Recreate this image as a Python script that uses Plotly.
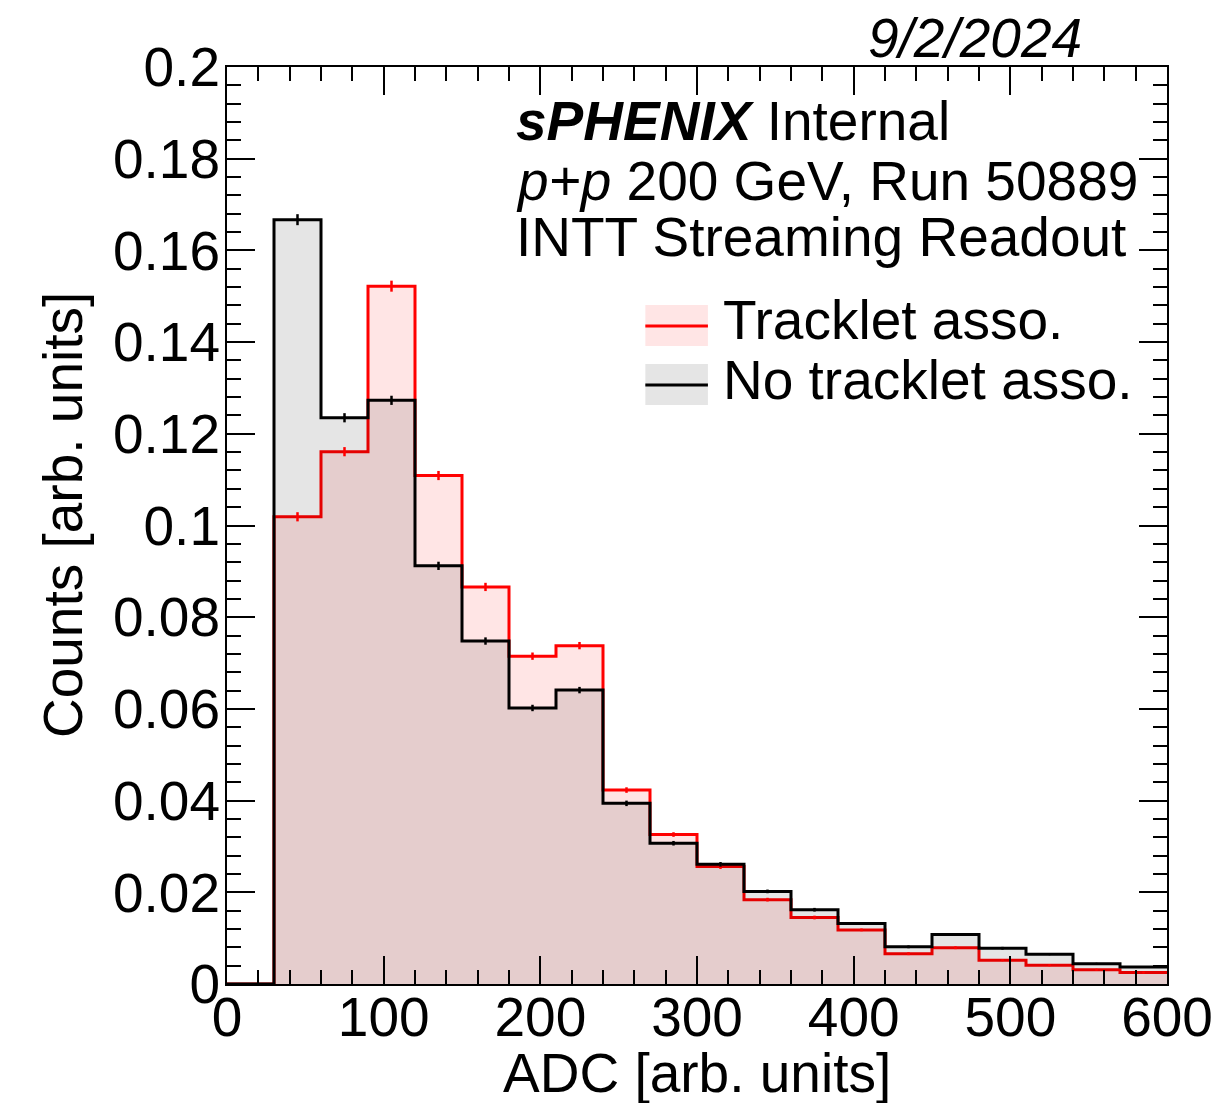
import plotly.graph_objects as go

# ---------------- data ----------------
bin_edges = [0, 30, 60, 90, 120, 150, 180, 210, 240, 270, 300, 330, 360, 390, 420, 450, 480, 510, 540, 570, 600]
bin_centers = [15, 45, 75, 105, 135, 165, 195, 225, 255, 285, 315, 345, 375, 405, 435, 465, 495, 525, 555, 585]

no_tracklet = [0.0, 0.1667, 0.1235, 0.1273, 0.0912, 0.0748, 0.0602, 0.0641, 0.0394, 0.0307,
               0.0261, 0.0202, 0.0162, 0.0132, 0.0081, 0.0108, 0.0078, 0.0065, 0.0044, 0.0037]
no_tracklet_err = [0.0, 0.0012, 0.0010, 0.0010, 0.0009, 0.0008, 0.0007, 0.0007, 0.0006, 0.0005,
                   0.0005, 0.0004, 0.0004, 0.0003, 0.0003, 0.0003, 0.0003, 0.0002, 0.0002, 0.0002]

tracklet = [0.0, 0.1019, 0.1161, 0.1522, 0.1109, 0.0866, 0.0715, 0.0738, 0.0423, 0.0326,
            0.0256, 0.0184, 0.0145, 0.0118, 0.0066, 0.0079, 0.0052, 0.0041, 0.0031, 0.0025]
tracklet_err = [0.0, 0.0010, 0.0010, 0.0012, 0.0010, 0.0009, 0.0008, 0.0008, 0.0006, 0.0005,
                0.0005, 0.0004, 0.0004, 0.0003, 0.0003, 0.0003, 0.0002, 0.0002, 0.0002, 0.0002]

x_ticks = [0, 100, 200, 300, 400, 500, 600]
y_ticks = [0, 0.02, 0.04, 0.06, 0.08, 0.1, 0.12, 0.14, 0.16, 0.18, 0.2]
y_tick_text = ["0", "0.02", "0.04", "0.06", "0.08", "0.1", "0.12", "0.14", "0.16", "0.18", "0.2"]

legend_labels = ["Tracklet asso.", "No tracklet asso."]

# ---------------- layout geometry ----------------
W, H = 1225, 1103
L, R, T, B = 227, 1173, 67, 984
FONT = "Liberation Sans, Arial, Helvetica, sans-serif"
FS = 55

RED = "#ff0000"
RED_FILL = "rgba(255,0,0,0.10)"
BLK = "#000000"
BLK_FILL = "rgba(0,0,0,0.10)"


def px(xp):
    return (xp - L) / (R - L)


def py(yp):
    return (B - yp) / (B - T)


def step(vals):
    return list(vals) + [vals[-1]]


fig = go.Figure()

fig.add_trace(go.Scatter(
    x=bin_edges, y=step(tracklet), mode="lines", line=dict(color=RED, width=3, shape="hv"),
    fill="tozeroy", fillcolor=RED_FILL, showlegend=False, hoverinfo="skip"))
fig.add_trace(go.Scatter(
    x=bin_edges, y=step(no_tracklet), mode="lines", line=dict(color=BLK, width=3, shape="hv"),
    fill="tozeroy", fillcolor=BLK_FILL, showlegend=False, hoverinfo="skip"))

fig.add_trace(go.Scatter(
    x=bin_centers[1:], y=tracklet[1:], mode="markers",
    marker=dict(color=RED, size=2),
    error_y=dict(type="data", array=tracklet_err[1:], color=RED, thickness=2.5, width=0),
    showlegend=False, hoverinfo="skip"))
fig.add_trace(go.Scatter(
    x=bin_centers[1:], y=no_tracklet[1:], mode="markers",
    marker=dict(color=BLK, size=2),
    error_y=dict(type="data", array=no_tracklet_err[1:], color=BLK, thickness=2.5, width=0),
    showlegend=False, hoverinfo="skip"))

axis_common = dict(
    showline=True, linecolor="black", linewidth=2, mirror="allticks",
    ticks="inside", ticklen=28, tickwidth=1.5, tickcolor="black",
    showgrid=False, zeroline=False,
    tickfont=dict(family=FONT, size=FS, color="black"),
)

fig.update_xaxes(
    range=[0, 600], tickmode="array", tickvals=x_ticks, ticklabelstandoff=-16,
    minor=dict(dtick=20, ticklen=14, tickwidth=1.5, tickcolor="black", ticks="inside", showgrid=False),
    **axis_common)
fig.update_yaxes(
    range=[0, 0.2], tickmode="array", tickvals=y_ticks, ticktext=y_tick_text, ticklabelstandoff=-6,
    minor=dict(dtick=0.004, ticklen=14, tickwidth=1.5, tickcolor="black", ticks="inside", showgrid=False),
    **axis_common)

annotations = [
    dict(text="ADC [arb. units]", x=px(700), y=py(1073), xanchor="center", yanchor="middle"),
    dict(text="Counts [arb. units]", x=px(62), y=py(515), xanchor="center", yanchor="middle", textangle=-90),
    dict(text="<i>9/2/2024</i>", x=px(1089), y=py(38), xanchor="right", yanchor="middle"),
    dict(text="<b><i>sPHENIX</i></b> Internal", x=px(516), y=py(121), xanchor="left", yanchor="middle"),
    dict(text="<i>p+p</i> 200 GeV, Run 50889", x=px(516), y=py(181), xanchor="left", yanchor="middle"),
    dict(text="INTT Streaming Readout", x=px(516), y=py(237), xanchor="left", yanchor="middle"),
    dict(text=legend_labels[0], x=px(724), y=py(320), xanchor="left", yanchor="middle"),
    dict(text=legend_labels[1], x=px(724), y=py(380), xanchor="left", yanchor="middle"),
]
for a in annotations:
    a.update(xref="paper", yref="paper", showarrow=False,
             font=dict(family=FONT, size=FS, color="black"))

shapes = [
    dict(type="rect", x0=px(648), x1=px(711), y0=py(346), y1=py(305), fillcolor=RED_FILL, line=dict(width=0)),
    dict(type="line", x0=px(648), x1=px(711), y0=py(326), y1=py(326), line=dict(color=RED, width=3)),
    dict(type="rect", x0=px(648), x1=px(711), y0=py(405), y1=py(364), fillcolor=BLK_FILL, line=dict(width=0)),
    dict(type="line", x0=px(648), x1=px(711), y0=py(385), y1=py(385), line=dict(color=BLK, width=3)),
]
for s in shapes:
    s.update(xref="paper", yref="paper", layer="above")

fig.update_layout(
    width=W, height=H,
    margin=dict(l=L, r=W - R, t=T, b=H - B, pad=0),
    paper_bgcolor="white", plot_bgcolor="white",
    font=dict(family=FONT, size=FS, color="black"),
    annotations=annotations, shapes=shapes,
    showlegend=False, hovermode=False,
)

fig.write_html("out.html", config={"displayModeBar": False})
